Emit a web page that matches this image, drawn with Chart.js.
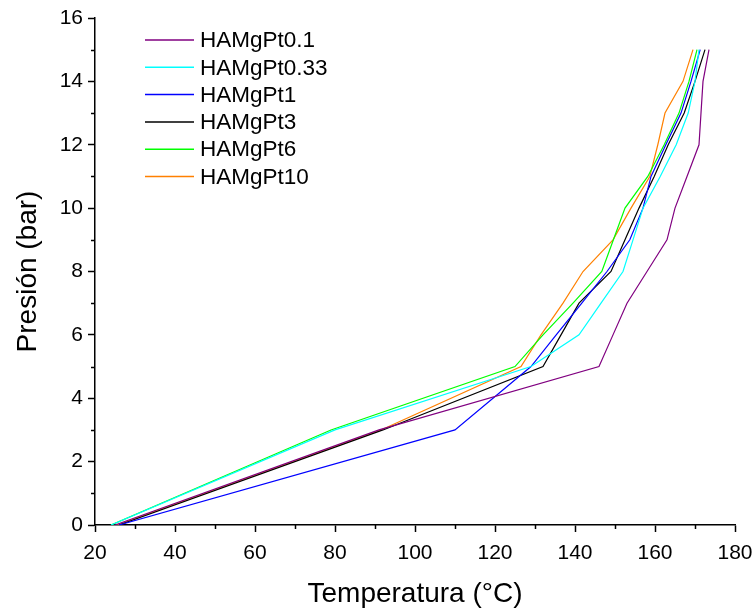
<!DOCTYPE html>
<html>
<head>
<meta charset="utf-8">
<script src="https://cdn.jsdelivr.net/npm/chart.js@4/dist/chart.umd.min.js"></script>
<style>
  html, body { margin: 0; padding: 0; background: #fff; }
  #wrap { width: 755px; height: 610px; position: relative; }
</style>
</head>
<body>
<div id="wrap"><canvas id="c" width="755" height="610"></canvas></div>
<script>
// Pressure steps (bar), shared by all series
const pressure = [0, 3, 5, 6, 7, 8, 9, 10, 11, 12, 13, 14, 15];
// Temperatures (°C) at each pressure step
const tempPt0_1  = [25, 91, 146, 149.5, 153, 158, 163, 165, 168, 171, 171.5, 172, 173.5];
const tempPt0_33 = [24, 80, 129, 141, 146.5, 152, 154.5, 157, 161.3, 165.3, 168.3, 170, 171];
const tempPt1    = [26, 110, 129, 135.3, 141.7, 148, 153.7, 157, 159, 162.7, 166.5, 169, 171.3];
const tempPt3    = [26, 92, 132, 136.5, 141, 149, 152.5, 156, 159.8, 163.3, 167.3, 170, 172.5];
const tempPt6    = [24, 79, 125, 132, 139.5, 146.7, 149.6, 152.5, 158.2, 162.3, 166, 168.5, 170.5];
const tempPt10   = [25.5, 91.5, 126.5, 131.5, 137, 142, 149.5, 154, 158.7, 160.7, 162.5, 167, 169.5];

const seriesNames = ['HAMgPt0.1', 'HAMgPt0.33', 'HAMgPt1', 'HAMgPt3', 'HAMgPt6', 'HAMgPt10'];
const seriesTemps = [tempPt0_1, tempPt0_33, tempPt1, tempPt3, tempPt6, tempPt10];
const seriesColors = ['#800080', '#00FFFF', '#0000FF', '#000000', '#00FF00', '#FF8000'];

const xMajor = [20, 40, 60, 80, 100, 120, 140, 160, 180];
const yMajor = [0, 2, 4, 6, 8, 10, 12, 14, 16];

const FONT = "'Liberation Sans', Arial, sans-serif";

const datasets = seriesNames.map((name, i) => ({
  label: name,
  data: pressure.map((p, k) => ({ x: seriesTemps[i][k], y: p })),
  borderColor: seriesColors[i],
  backgroundColor: seriesColors[i],
  borderWidth: 1.2,
  pointRadius: 0,
  showLine: true,
  tension: 0,
  fill: false
}));

const minorTicks = {
  id: 'minorTicks',
  afterDraw(chart) {
    const ctx = chart.ctx, xs = chart.scales.x, ys = chart.scales.y;
    ctx.save();
    ctx.strokeStyle = '#000';
    ctx.lineWidth = 1.5;
    ctx.beginPath();
    for (let v = xs.min; v <= xs.max; v += 10) {
      if (xMajor.includes(v)) continue;
      const px = Math.round(xs.getPixelForValue(v)) + 0.5;
      ctx.moveTo(px, ys.bottom);
      ctx.lineTo(px, ys.bottom + 4);
    }
    for (let v = ys.min; v <= ys.max; v += 1) {
      if (yMajor.includes(v)) continue;
      const py = Math.round(ys.getPixelForValue(v)) + 0.5;
      ctx.moveTo(xs.left, py);
      ctx.lineTo(xs.left - 4, py);
    }
    ctx.stroke();
    ctx.restore();
  }
};

const innerLegend = {
  id: 'innerLegend',
  afterDraw(chart) {
    const ctx = chart.ctx;
    ctx.save();
    ctx.font = '22.5px ' + FONT;
    ctx.textBaseline = 'middle';
    ctx.textAlign = 'left';
    seriesNames.forEach((name, i) => {
      const y = 40 + i * 27.3;
      ctx.strokeStyle = seriesColors[i];
      ctx.lineWidth = 1.5;
      ctx.beginPath();
      ctx.moveTo(145, y);
      ctx.lineTo(194, y);
      ctx.stroke();
      ctx.fillStyle = '#000';
      ctx.fillText(name, 200, y + 1);
    });
    ctx.restore();
  }
};

new Chart(document.getElementById('c'), {
  type: 'scatter',
  data: { datasets },
  options: {
    responsive: false,
    animation: false,
    devicePixelRatio: 1,
    layout: { padding: { top: 18, right: 20, left: 0, bottom: 0 } },
    plugins: { legend: { display: false }, tooltip: { enabled: false } },
    scales: {
      x: {
        type: 'linear',
        min: 20, max: 180,
        afterFit: s => { s.height = 85; s.paddingRight = 0; s.paddingLeft = 0; },
        border: { display: true, color: '#000', width: 1.5 },
        grid: {
          drawOnChartArea: false,
          drawTicks: true,
          tickLength: 7,
          tickWidth: 1.5,
          tickColor: ctx => (xMajor.includes(ctx.tick && ctx.tick.value) ? '#000' : 'rgba(0,0,0,0)')
        },
        ticks: {
          stepSize: 10,
          autoSkip: false,
          maxRotation: 0,
          padding: 9,
          color: '#000',
          font: { family: FONT, size: 21 },
          callback: v => (xMajor.includes(v) ? String(v) : '')
        },
        title: {
          display: true,
          text: 'Temperatura (°C)',
          color: '#000',
          font: { family: FONT, size: 28, lineHeight: 1.1 },
          padding: { top: 0, bottom: 0 }
        }
      },
      y: {
        type: 'linear',
        min: 0, max: 16,
        afterFit: s => { s.width = 95; },
        border: { display: true, color: '#000', width: 1.5 },
        grid: {
          drawOnChartArea: false,
          drawTicks: true,
          tickLength: 7,
          tickWidth: 1.5,
          tickColor: ctx => (yMajor.includes(ctx.tick && ctx.tick.value) ? '#000' : 'rgba(0,0,0,0)')
        },
        ticks: {
          stepSize: 1,
          autoSkip: false,
          padding: 5,
          color: '#000',
          font: { family: FONT, size: 21 },
          callback: v => (yMajor.includes(v) ? String(v) : '')
        },
        title: {
          display: true,
          text: 'Presión (bar)',
          color: '#000',
          font: { family: FONT, size: 28, lineHeight: 1.2 },
          padding: { top: 11, bottom: 0 }
        }
      }
    }
  },
  plugins: [minorTicks, innerLegend]
});
</script>
</body>
</html>
